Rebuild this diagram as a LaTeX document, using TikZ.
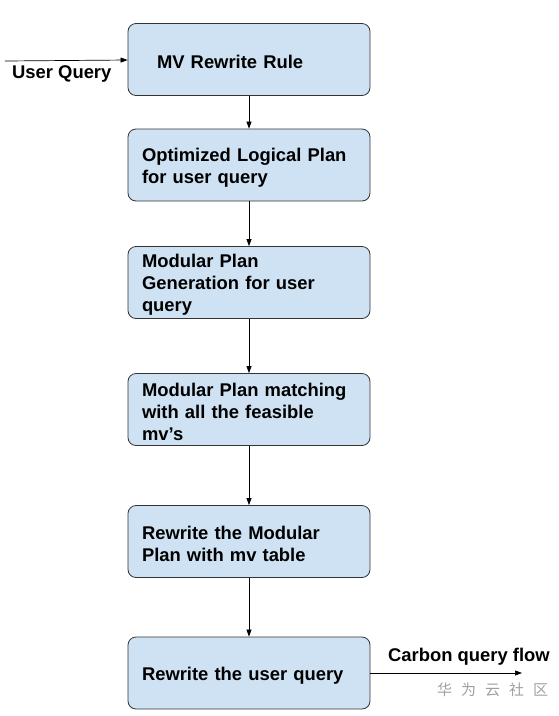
\documentclass[tikz,border=0pt]{standalone}
\usepackage{fontspec}
\setmainfont{Liberation Sans}
\newfontfamily\cjk{Noto Sans CJK SC}
\usetikzlibrary{arrows.meta}
\definecolor{boxfill}{HTML}{CFE2F3}
\definecolor{boxline}{HTML}{333333}
\definecolor{wm}{HTML}{A0A0A0}
\begin{document}
\begin{tikzpicture}[x=1pt,y=-1pt,
  stepbox/.style={draw=boxline, fill=boxfill, rounded corners=8pt, line width=0.8pt,
    minimum width=242pt, minimum height=72pt, inner sep=0pt},
  steptext/.style={text width=214pt, inner sep=0pt, align=left,
    font=\fontsize{18.4}{22}\selectfont\bfseries, yshift=-2.5pt},
  lbl/.style={font=\fontsize{18.4}{22}\selectfont\bfseries, inner sep=0pt},
  arr/.style={-{Triangle[length=7pt,width=5pt]}, line width=0.7pt, draw=black}]
\useasboundingbox (0,0) rectangle (558,716);
\node[stepbox] (b1) at (249,59.5) {};
\node[stepbox] (b2) at (249,165) {};
\node[stepbox] (b3) at (249,282.5) {};
\node[stepbox] (b4) at (249,409.5) {};
\node[stepbox] (b5) at (249,541.5) {};
\node[stepbox] (b6) at (249,673) {};
\node[steptext] (t1) at (b1) {\hspace*{15pt}MV Rewrite Rule};
\node[steptext] (t2) at (b2) {Optimized Logical Plan\\for user query};
\node[steptext] (t3) at (b3) {Modular Plan\\Generation for user\\query};
\node[steptext] (t4) at (b4) {Modular Plan matching\\with all the feasible\\mv’s};
\node[steptext] (t5) at (b5) {Rewrite the Modular\\Plan with mv table};
\node[steptext] (t6) at (b6) {Rewrite the user query};
\coordinate (uq) at (5,61);
\coordinate (cq) at (522,673);
\draw[arr] (uq) -- (b1.west |- 0,60);
\draw[arr] (b1) -- (b2);
\draw[arr] (b2) -- (b3);
\draw[arr] (b3) -- (b4);
\draw[arr] (b4) -- (b5);
\draw[arr] (b5) -- (b6);
\draw[arr] (b6) -- (cq);
\node[lbl, anchor=west] (uql) at (12,74) {User Query};
\node[lbl, anchor=west] (cql) at (388,657) {Carbon query flow};
\node[inner sep=0pt, anchor=west, text=wm, font=\cjk\fontsize{15}{18}\selectfont] (wmk) at (437,690) {华\hspace{9pt}为\hspace{9pt}云\hspace{9pt}社\hspace{9pt}区};
\end{tikzpicture}
\end{document}
